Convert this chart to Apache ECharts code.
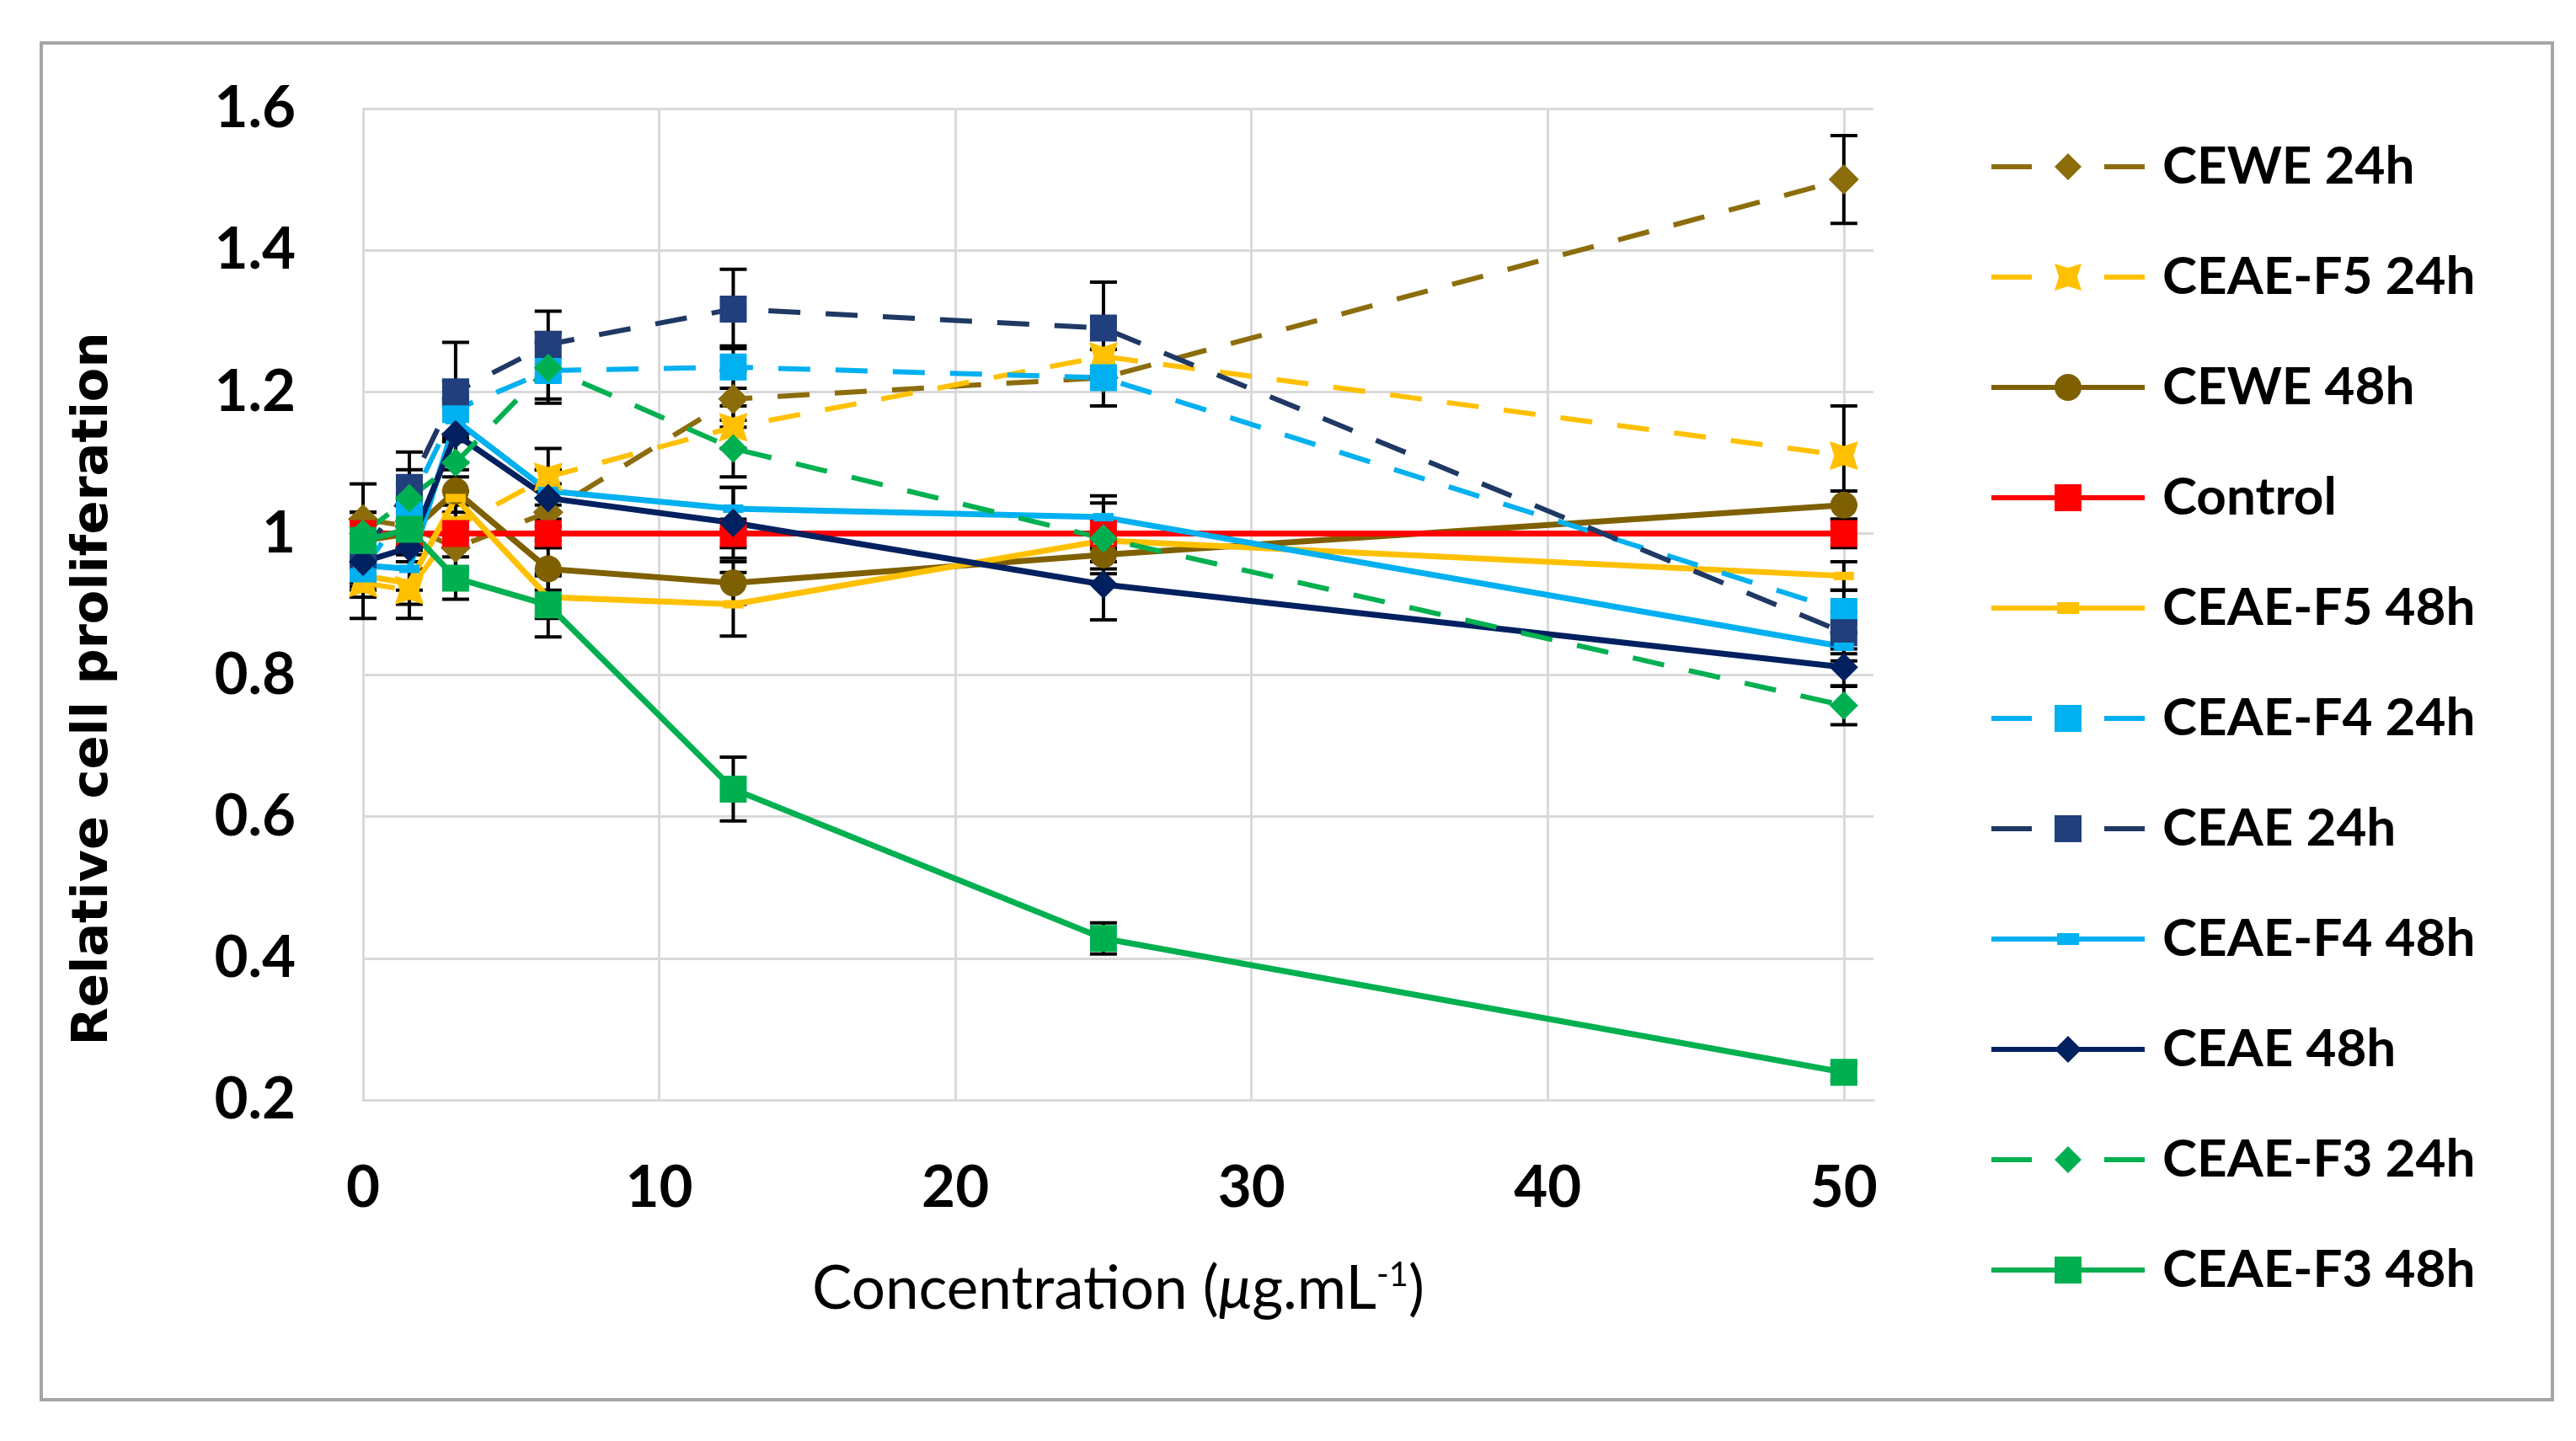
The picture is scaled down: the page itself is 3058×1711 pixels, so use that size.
<!DOCTYPE html>
<html>
<head>
<meta charset="utf-8">
<script src="https://cdn.jsdelivr.net/npm/echarts@6/dist/echarts.min.js"></script>
<style>
html,body{margin:0;padding:0;background:#ffffff;}
#chart{width:3058px;height:1711px;}
</style>
</head>
<body>
<div id="chart"></div>
<script>
// ---------- data ----------
const concentrations = [0, 1.5625, 3.125, 6.25, 12.5, 25, 50];

const seriesNames = ['CEWE 24h', 'CEAE-F5 24h', 'CEWE 48h', 'Control', 'CEAE-F5 48h',
  'CEAE-F4 24h', 'CEAE 24h', 'CEAE-F4 48h', 'CEAE 48h', 'CEAE-F3 24h', 'CEAE-F3 48h'];

const cewe24   = [1.02, 1.01, 0.98, 1.03, 1.19, 1.22, 1.50];
const ceaeF5_24 = [0.93, 0.92, 1.01, 1.08, 1.15, 1.25, 1.11];
const cewe48   = [0.99, 1.00, 1.06, 0.95, 0.93, 0.97, 1.04];
const control  = [1.00, 1.00, 1.00, 1.00, 1.00, 1.00, 1.00];
const ceaeF5_48 = [0.94, 0.93, 1.05, 0.91, 0.90, 0.99, 0.94];
const ceaeF4_24 = [0.95, 1.04, 1.175, 1.23, 1.235, 1.22, 0.89];
const ceae24   = [0.97, 1.065, 1.20, 1.267, 1.317, 1.29, 0.86];
const ceaeF4_48 = [0.955, 0.95, 1.16, 1.06, 1.035, 1.023, 0.84];
const ceae48   = [0.96, 0.98, 1.14, 1.05, 1.015, 0.928, 0.811];
const ceaeF3_24 = [1.00, 1.05, 1.10, 1.234, 1.12, 0.993, 0.757];
const ceaeF3_48 = [0.99, 1.006, 0.937, 0.899, 0.639, 0.428, 0.239];

// error bar half-widths
const cewe24Err   = [0.05, 0.03, 0.03, 0.04, 0.04, 0.04, 0.062];
const ceaeF5_24Err = [0.05, 0.04, 0.03, 0.04, 0.03, 0.03, 0.07];
const cewe48Err   = [0.04, 0.03, 0.03, 0.03, 0.03, 0.02, 0.02];
const controlErr  = [0.02, 0.02, 0.02, 0.02, 0.02, 0.02, 0.02];
const ceaeF5_48Err = [0.03, 0.03, 0.03, 0.03, 0.045, 0.03, 0.02];
const ceaeF4_24Err = [0.03, 0.03, 0.04, 0.04, 0.03, 0.04, 0.03];
const ceae24Err   = [0.03, 0.05, 0.07, 0.047, 0.056, 0.065, 0.03];
const ceaeF4_48Err = [0.03, 0.03, 0.03, 0.03, 0.03, 0.03, 0.02];
const ceae48Err   = [0.03, 0.03, 0.04, 0.04, 0.05, 0.05, 0.026];
const ceaeF3_24Err = [0.03, 0.04, 0.04, 0.05, 0.04, 0.05, 0.027];
const ceaeF3_48Err = [0.03, 0.03, 0.03, 0.045, 0.045, 0.022, 0.012];

const valueArrays = [cewe24, ceaeF5_24, cewe48, control, ceaeF5_48, ceaeF4_24, ceae24, ceaeF4_48, ceae48, ceaeF3_24, ceaeF3_48];
const errorArrays = [cewe24Err, ceaeF5_24Err, cewe48Err, controlErr, ceaeF5_48Err, ceaeF4_24Err, ceae24Err, ceaeF4_48Err, ceae48Err, ceaeF3_24Err, ceaeF3_48Err];

// ---------- styles ----------
const bowtie = 'path://M0,0 L5,1.6 L10,0 L8.4,5 L10,10 L5,8.4 L0,10 L1.6,5 Z';
const styles = [
  {color: '#8C6D0C', dashed: true,  symbol: 'diamond', size: 36},
  {color: '#FFC000', dashed: true,  symbol: bowtie,    size: 34},
  {color: '#7F6000', dashed: false, symbol: 'circle',  size: 32},
  {color: '#FF0000', dashed: false, symbol: 'rect',    size: 32},
  {color: '#FFC000', dashed: false, symbol: 'rect',    size: [24, 10], dashMarker: true},
  {color: '#00B0F0', dashed: true,  symbol: 'rect',    size: 32},
  {color: '#203F7C', dashed: true,  symbol: 'rect',    size: 32},
  {color: '#00B0F0', dashed: false, symbol: 'rect',    size: [24, 10], dashMarker: true},
  {color: '#002060', dashed: false, symbol: 'diamond', size: 34},
  {color: '#00B050', dashed: true,  symbol: 'diamond', size: 34},
  {color: '#00B050', dashed: false, symbol: 'rect',    size: 32}
];
const lineColors = ['#8C6D0C','#FFC000','#7F6000','#FF0000','#FFC000','#00B0F0','#1F3864','#00B0F0','#002060','#00B050','#00B050'];

const series = [];
// error bars (drawn beneath lines)
valueArrays.forEach((vals, si) => {
  series.push({
    type: 'custom',
    name: 'err' + si,
    silent: true,
    z: 1,
    encode: {x: 0, y: [1, 2]},
    data: concentrations.map((x, i) => [x, vals[i] - errorArrays[si][i], vals[i] + errorArrays[si][i]]),
    renderItem: function (params, api) {
      const x = api.value(0);
      const lo = api.coord([x, api.value(1)]);
      const hi = api.coord([x, api.value(2)]);
      const w = 16;
      const st = {stroke: '#000000', lineWidth: 4};
      return {
        type: 'group',
        children: [
          {type: 'line', shape: {x1: lo[0], y1: lo[1], x2: hi[0], y2: hi[1]}, style: st},
          {type: 'line', shape: {x1: lo[0] - w, y1: lo[1], x2: lo[0] + w, y2: lo[1]}, style: st},
          {type: 'line', shape: {x1: hi[0] - w, y1: hi[1], x2: hi[0] + w, y2: hi[1]}, style: st}
        ]
      };
    }
  });
});
valueArrays.forEach((vals, si) => {
  const s = styles[si];
  series.push({
    type: 'line',
    name: seriesNames[si],
    z: 3,
    data: concentrations.map((x, i) => [x, vals[i]]),
    symbol: s.symbol,
    symbolSize: s.size,
    showAllSymbol: true,
    itemStyle: {color: s.color},
    lineStyle: {color: lineColors[si], width: s.dashed ? 6 : 7, type: s.dashed ? [38, 30] : 'solid'},
    emphasis: {disabled: true}
  });
});

const dashIcon = 'path://M0,17 H78 V13 H104 V17 H182 V23 H104 V27 H78 V23 H0 Z';
const legendData = seriesNames.map((n, si) => {
  const item = {name: n};
  if (styles[si].dashed) item.lineStyle = {type: [48, 86]};
  if (styles[si].dashMarker) item.icon = dashIcon;
  return item;
});

const chart = echarts.init(document.getElementById('chart'), null, {renderer: 'canvas'});
chart.setOption({
  animation: false,
  backgroundColor: '#ffffff',
  grid: {left: 431, top: 129, width: 1793, height: 1177, containLabel: false, outerBoundsMode: 'none'},
  xAxis: {
    type: 'value', min: 0, max: 51, interval: 10,
    axisLine: {show: true, lineStyle: {color: '#D9D9D9', width: 3}},
    axisTick: {show: false},
    splitLine: {show: true, showMaxLine: false, lineStyle: {color: '#D9D9D9', width: 3}},
    axisLabel: {showMaxLabel: false, margin: 70, color: '#000000', fontFamily: 'Lato', fontWeight: 'bold', fontSize: 69, lineHeight: 69},
    name: '{a|Concentration (}{i|μ}{a|g.mL}{s|-1}{a|)}',
    nameLocation: 'middle',
    nameGap: 188,
    nameTextStyle: {
      rich: {
        a: {fontFamily: 'Lato', fontSize: 71, color: '#000000', lineHeight: 74},
        i: {fontFamily: 'Lato', fontSize: 71, fontStyle: 'italic', color: '#000000', lineHeight: 74},
        s: {fontFamily: 'Lato', fontSize: 40, color: '#000000', verticalAlign: 'top', lineHeight: 42}
      }
    }
  },
  yAxis: {
    type: 'value', min: 0.2, max: 1.6, interval: 0.2,
    axisLine: {show: true, lineStyle: {color: '#D9D9D9', width: 3}},
    axisTick: {show: false},
    splitLine: {show: true, lineStyle: {color: '#D9D9D9', width: 3}},
    axisLabel: {margin: 80, color: '#000000', fontFamily: 'Lato', fontWeight: 'bold', fontSize: 69}
  },
  legend: {
    orient: 'vertical',
    left: 2356,
    top: 158,
    itemWidth: 182,
    itemHeight: 40,
    itemGap: 61,
    selectedMode: false,
    data: legendData,
    lineStyle: {width: 6},
    textStyle: {fontFamily: 'Lato', fontWeight: 'bold', fontSize: 62, color: '#000000', lineHeight: 70, padding: [0, 0, 0, 16]}
  },
  graphic: [
    {type: 'rect', shape: {x: 49, y: 51, width: 2981, height: 1611}, style: {fill: 'none', stroke: '#A6A6A6', lineWidth: 4}, z: -10, silent: true},
    {type: 'text', x: 112, y: 818, rotation: Math.PI / 2, silent: true,
     style: {text: 'Relative cell proliferation', fill: '#000000', font: 'bold 59px "DejaVu Sans"', align: 'center', verticalAlign: 'middle'}}
  ],
  series: series
});
</script>
</body>
</html>
